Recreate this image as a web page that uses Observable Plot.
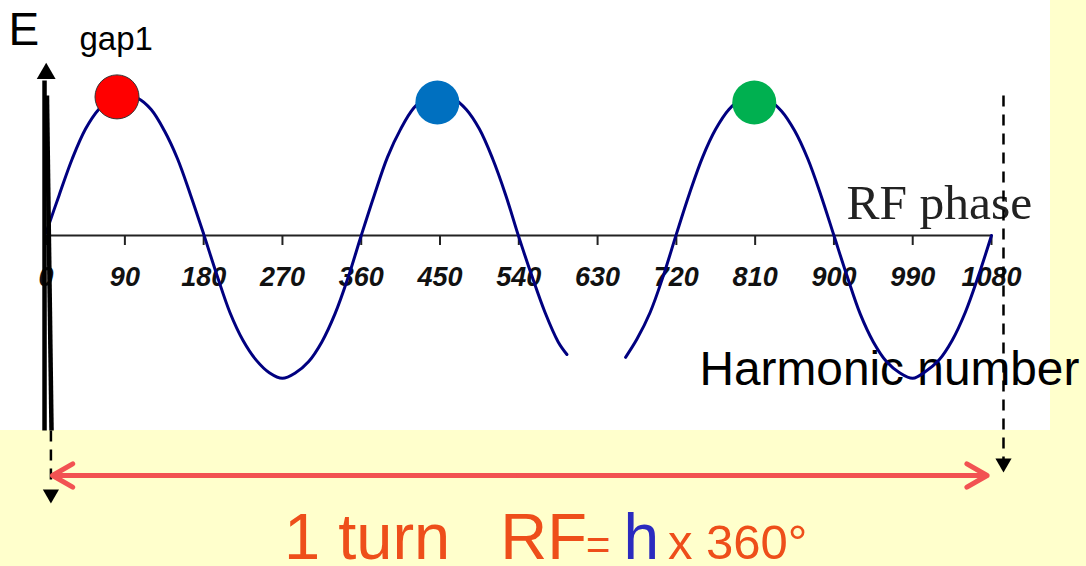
<!DOCTYPE html>
<html>
<head>
<meta charset="utf-8">
<script src="https://cdn.jsdelivr.net/npm/d3@7"></script>
<script src="https://cdn.jsdelivr.net/npm/@observablehq/plot@0.6"></script>
<style>
html,body{margin:0;padding:0;background:#FFFFCC;width:1086px;height:566px;overflow:hidden;}
#wrap{position:relative;width:1086px;height:566px;}
#panel{position:absolute;left:0;top:0;width:1050px;height:430px;background:#ffffff;}
#chart{position:absolute;left:0;top:0;}
#caption{position:absolute;left:0;top:509px;width:1086px;height:55px;display:flex;align-items:baseline;
  font-family:"Liberation Sans",Arial,sans-serif;line-height:0.85;color:#EE4E1A;white-space:pre;}
</style>
</head>
<body>
<div id="wrap">
  <div id="panel"></div>
  <div id="chart"></div>
  <div id="caption"><span style="margin-left:284px;font-size:65px">1 turn</span><span style="margin-left:50px;font-size:65px">RF</span><span style="font-size:42px;margin-left:-1px">=</span><span style="font-size:64px;color:#2B2BBF;margin-left:13px">h</span><span style="font-size:49px;margin-left:9px">x 360°</span></div>
</div>
<script>
// ---- data ----
const phaseDeg = [0,15,30,45,60,75,90,105,120,135,150,165,180,195,210,225,240,255,270,285,300,315,330,345,360,
  375,390,405,420,435,450,465,480,495,510,525,540,555,570,585,595,630,662,675,690,705,720,
  735,750,765,780,795,810,825,840,855,870,885,900,915,930,945,960,975,990,1005,1020,1035,1050,1065,1080];
const voltage = [0.02,0.29,0.55,0.76,0.90,0.98,1.00,0.98,0.90,0.75,0.55,0.29,0.01,-0.28,-0.55,-0.75,-0.89,-0.98,-1.02,-0.98,-0.90,-0.76,-0.56,-0.30,0.00,
  0.29,0.56,0.76,0.91,0.99,1.00,0.98,0.90,0.76,0.55,0.29,-0.01,-0.29,-0.55,-0.76,-0.85,null,-0.87,-0.74,-0.55,-0.29,0.01,
  0.30,0.56,0.76,0.90,0.98,1.00,0.97,0.89,0.75,0.55,0.29,0.00,-0.29,-0.56,-0.76,-0.90,-0.98,-1.02,-0.97,-0.89,-0.75,-0.55,-0.29,0.00];
const tickDeg = [0,90,180,270,360,450,540,630,720,810,900,990,1080];
const bunchDeg = [81, 447, 809];
const bunchV = [0.99, 0.95, 0.95];
const bunchFill = ["#FF0000", "#0070C0", "#00B050"];
const bunchStroke = ["#333333", "none", "none"];

// annotation anchors (phase in degrees, amplitude units)
const eAxisX = -1.8, eAxisBottom = -1.393, eAxisTop = 1.107;
const gapLine = {x1: 6.2, y1: -1.393, x2: 1.0, y2: 1.0};
const leftDrop = {x: 5.5, y1: -1.393, y2: -1.79, head: -1.848};
const rightDrop = {x: 1093.7, y1: 1.0, y2: -1.607, head: -1.626};
const turnY = -1.714, turnStart = 7.3, turnEnd = 1075, turnMid = 540;

const curve = phaseDeg.map((d, i) => ({deg: d, v: voltage[i]}));
const bunches = bunchDeg.map((d, i) => ({deg: d, v: bunchV[i], fill: bunchFill[i], stroke: bunchStroke[i]}));
const sans = "Liberation Sans, Arial, sans-serif";

const chart = Plot.plot({
  width: 1086,
  height: 510,
  marginTop: 0, marginRight: 0, marginBottom: 0, marginLeft: 0,
  x: {domain: [0, 1080], range: [45.6, 991], axis: null},
  y: {domain: [-1, 1], range: [375, 95], axis: null},
  color: {type: "identity"},
  style: {background: "transparent", overflow: "visible"},
  marks: [
    Plot.text(["E"], {text: d => d, frameAnchor: "top-left", dx: 8, dy: 12, lineAnchor: "top", textAnchor: "start", fontSize: 46, fontFamily: sans, fill: "#000"}),
    Plot.text(["gap1"], {text: d => d, frameAnchor: "top-left", dx: 79, dy: 26, lineAnchor: "top", textAnchor: "start", fontSize: 33, fontFamily: sans, fill: "#000"}),
    Plot.text(["RF phase"], {text: d => d, frameAnchor: "top-left", dx: 846, dy: 183, lineAnchor: "top", textAnchor: "start", fontSize: 49.5, fontFamily: "Liberation Serif, Times New Roman, serif", fill: "#222"}),
    Plot.text(["Harmonic number"], {text: d => d, frameAnchor: "top-left", dx: 699, dy: 351, lineAnchor: "top", textAnchor: "start", fontSize: 47.8, fontFamily: sans, fill: "#000"}),
    Plot.ruleY([0], {x1: 0, x2: 1080, stroke: "#222", strokeWidth: 2}),
    Plot.ruleX(tickDeg, {x: d => d, y1: 0, y2: -10 / 140, stroke: "#222", strokeWidth: 2}),
    Plot.text(tickDeg, {x: d => d, y: 0, dy: 42, text: d => String(d), fontSize: 27, fontWeight: "bold", fontStyle: "italic", fontFamily: sans, fill: "#111"}),
    Plot.line(curve, {x: "deg", y: "v", stroke: "#000080", strokeWidth: 3, curve: "catmull-rom"}),
    Plot.dot(bunches, {x: "deg", y: "v", r: 22, fill: "fill", stroke: "stroke", strokeWidth: 1}),
    // E axis (solid black arrow) and gap line
    Plot.link([{x1: eAxisX, y1: eAxisBottom, x2: eAxisX, y2: eAxisTop}, gapLine], {x1: "x1", y1: "y1", x2: "x2", y2: "y2", stroke: "#000", strokeWidth: 4.5}),
    Plot.dot([{x: 0.1, y: 1.156}], {x: "x", y: "y", symbol: "triangle", r: 7, fill: "#000", stroke: "none"}),
    // dashed drop lines
    Plot.link([{x1: leftDrop.x, y1: leftDrop.y1, x2: leftDrop.x, y2: leftDrop.y2}, {x1: rightDrop.x, y1: rightDrop.y1, x2: rightDrop.x, y2: rightDrop.y2}],
      {x1: "x1", y1: "y1", x2: "x2", y2: "y2", stroke: "#000", strokeWidth: 2.5, strokeDasharray: "11,8"}),
    Plot.dot([{x: leftDrop.x, y: leftDrop.head}, {x: rightDrop.x, y: rightDrop.head}], {x: "x", y: "y", symbol: "triangle", r: 6, rotate: 180, fill: "#000", stroke: "none"}),
    // one-turn double arrow
    Plot.arrow([{x1: turnMid, x2: turnStart}, {x1: turnMid, x2: turnEnd}], {x1: "x1", x2: "x2", y1: turnY, y2: turnY, stroke: "#F25252", strokeWidth: 5, headLength: 7})
  ]
});
document.getElementById("chart").appendChild(chart);
</script>
</body>
</html>
